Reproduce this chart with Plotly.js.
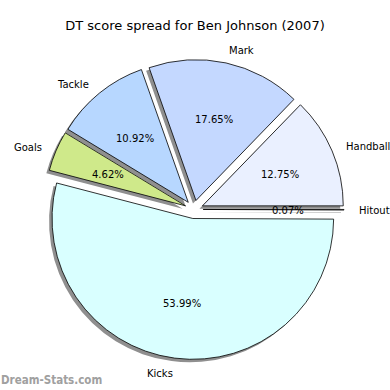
<!DOCTYPE html>
<html>
<head>
<meta charset="utf-8">
<script src="https://cdn.plot.ly/plotly-3.0.1.min.js"></script>
<style>html,body{margin:0;padding:0;background:#fff;}#chart{width:390px;height:390px;}</style>
</head>
<body>
<div id="chart"></div>
<script>
// Data (counterclockwise from 3 o'clock)
const categories = ["Hitout", "Handball", "Mark", "Tackle", "Goals", "Kicks"];
const shares = [0.07, 12.75, 17.65, 10.92, 4.62, 53.99];
const sliceColors = ["#e6e6e6", "#eaf0ff", "#c4d8ff", "#b7d7ff", "#cfe98a", "#d9ffff"];
const titleText = "DT score spread for Ben Johnson (2007)";
const watermark = "Dream-Stats.com";

const W = 390, H = 390;
const pullAmt = 0.065;
const labelDist = 1.1, pctDist = 0.6;
const dom = {x: [0.113, 0.882], y: [0.078, 0.848]};
const sh = 3 / W;
const pulls = categories.map(() => pullAmt);
const font = {family: "DejaVu Sans, sans-serif", size: 10, color: "#000"};

// pie geometry in pixels (as Plotly lays it out) -> axis ranges in radius units
const domW = (dom.x[1] - dom.x[0]) * W, domH = (dom.y[1] - dom.y[0]) * H;
const rPx = Math.min(domW, domH) / (2 + 2 * pullAmt);
const cxPx = (dom.x[0] + dom.x[1]) / 2 * W;
const cyPx = (dom.y[0] + dom.y[1]) / 2 * H; // from bottom
const xRange = [-cxPx / rPx, (W - cxPx) / rPx];
const yRange = [-cyPx / rPx, (H - cyPx) / rPx];

// text positions derived from the data (mid-angle of each slice)
const total = shares.reduce((a, b) => a + b, 0);
const annotations = [];
let acc = 0;
shares.forEach((v, i) => {
  const mid = (acc + v / 2) / total * 2 * Math.PI;
  acc += v;
  const ox = pullAmt * Math.cos(mid), oy = pullAmt * Math.sin(mid);
  const lx = ox + labelDist * Math.cos(mid), ly = oy + labelDist * Math.sin(mid);
  annotations.push({x: lx, y: ly, xref: "x", yref: "y", text: categories[i], showarrow: false,
    xanchor: lx > 0 ? "left" : "right", yanchor: "middle", borderpad: 0, yshift: -1.5, font: font});
  annotations.push({x: ox + pctDist * Math.cos(mid), y: oy + pctDist * Math.sin(mid), xref: "x", yref: "y",
    text: (v / total * 100).toFixed(2) + "%", showarrow: false,
    xanchor: "center", yanchor: "middle", borderpad: 0, yshift: -1.5, font: font});
});
annotations.push({text: watermark, xref: "paper", yref: "paper", x: 0, y: 0.006,
  xanchor: "left", yanchor: "bottom", showarrow: false, borderpad: 0,
  font: {family: "DejaVu Sans Condensed, DejaVu Sans, sans-serif", size: 11.5, color: "#a0a0a0", weight: "bold"}});

const shadow = {
  type: "pie", values: shares, labels: categories, sort: false,
  direction: "counterclockwise", rotation: 90, pull: pulls,
  domain: {x: [dom.x[0] - sh, dom.x[1] - sh], y: [dom.y[0] - sh, dom.y[1] - sh]},
  marker: {colors: categories.map(() => "#8f8f8f"), line: {width: 0}},
  textinfo: "none", hoverinfo: "skip", showlegend: false
};
const main = {
  type: "pie", values: shares, labels: categories, sort: false,
  direction: "counterclockwise", rotation: 90, pull: pulls, domain: dom,
  marker: {colors: sliceColors, line: {color: "#000", width: 0.8}},
  textinfo: "none", hoverinfo: "label+percent", showlegend: false
};
const anchor = {type: "scatter", x: [0], y: [0], mode: "markers", marker: {opacity: 0},
  hoverinfo: "skip", showlegend: false};

const layout = {
  width: W, height: H,
  margin: {l: 0, r: 0, t: 0, b: 0},
  paper_bgcolor: "#fff", plot_bgcolor: "rgba(0,0,0,0)",
  xaxis: {range: xRange, visible: false, fixedrange: true, domain: [0, 1]},
  yaxis: {range: yRange, visible: false, fixedrange: true, domain: [0, 1]},
  title: {text: titleText, font: {family: "DejaVu Sans, sans-serif", size: 13, color: "#000"},
          x: 0.5, xanchor: "center", y: 0.935, yanchor: "middle"},
  annotations: annotations
};

Plotly.newPlot("chart", [anchor, shadow, main], layout, {displayModeBar: false, staticPlot: true});
</script>
</body>
</html>
